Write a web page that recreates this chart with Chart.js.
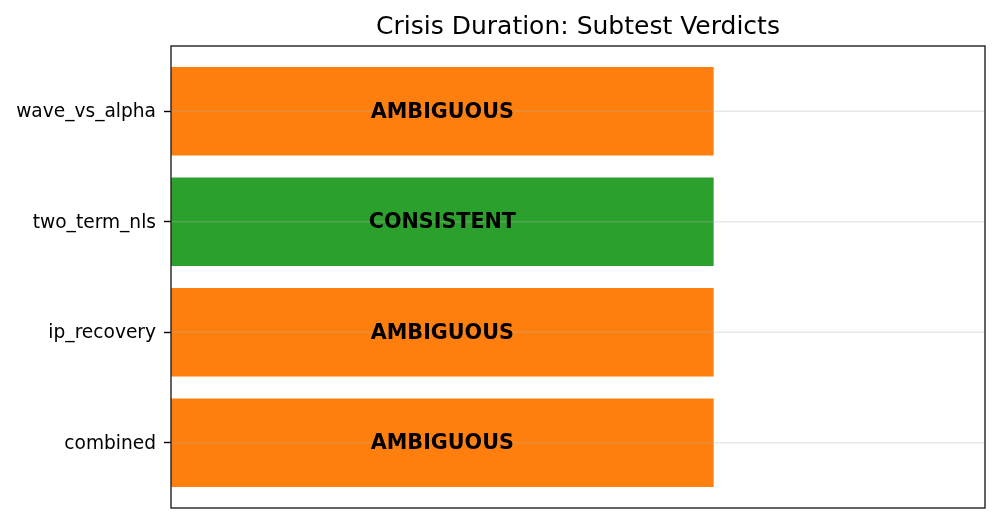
<!DOCTYPE html>
<html>
<head>
<meta charset="utf-8">
<script src="https://cdn.jsdelivr.net/npm/chart.js@4"></script>
<style>
html,body{margin:0;padding:0;background:#fff;}
#wrap{width:999px;height:523px;position:relative;}
</style>
</head>
<body>
<div id="wrap"><canvas id="c" width="999" height="523"></canvas></div>
<script>
const categories = ["wave_vs_alpha", "two_term_nls", "ip_recovery", "combined"];
const values = [1, 1, 1, 1];
const verdicts = ["AMBIGUOUS", "CONSISTENT", "AMBIGUOUS", "AMBIGUOUS"];
const titleText = "Crisis Duration: Subtest Verdicts";

const verdictColors = { AMBIGUOUS: "#ff7f0e", CONSISTENT: "#2ca02c", INCONSISTENT: "#d62728" };
const FONT = "'DejaVu Sans', sans-serif";

const framePlugin = {
  id: "frame",
  afterDatasetsDraw(chart) {
    const { ctx, chartArea: a } = chart;
    const ys = chart.scales.y;
    ctx.save();
    ctx.strokeStyle = "rgba(176,176,176,0.3)";
    ctx.lineWidth = 1.4;
    ys.ticks.forEach(t => {
      const p = ys.getPixelForValue(t.value);
      ctx.beginPath();
      ctx.moveTo(a.left, p);
      ctx.lineTo(a.right, p);
      ctx.stroke();
    });
    ctx.restore();
  },
  afterDraw(chart) {
    const { ctx, chartArea: a } = chart;
    ctx.save();
    const meta = chart.getDatasetMeta(0);
    ctx.font = "bold 20.7px " + FONT;
    ctx.fillStyle = "#000";
    ctx.textAlign = "center";
    ctx.textBaseline = "middle";
    meta.data.forEach((bar, i) => {
      ctx.fillText(verdicts[i], (bar.x + bar.base) / 2, bar.y + 1);
    });
    ctx.strokeStyle = "#222";
    ctx.lineWidth = 1.4;
    ctx.strokeRect(a.left, a.top, a.right - a.left, a.bottom - a.top);
    ctx.font = "25px " + FONT;
    ctx.fillStyle = "#000";
    ctx.textAlign = "center";
    ctx.textBaseline = "middle";
    ctx.fillText(titleText, (a.left + a.right) / 2, 27);
    ctx.restore();
  }
};

new Chart(document.getElementById("c"), {
  type: "bar",
  data: {
    datasets: [{
      data: values.map((v, i) => ({ x: v, y: i })),
      backgroundColor: verdicts.map(v => verdictColors[v]),
      borderWidth: 0,
      categoryPercentage: 1,
      barPercentage: 0.8
    }]
  },
  options: {
    indexAxis: "y",
    responsive: false,
    animation: false,
    devicePixelRatio: 1,
    layout: { padding: { top: 46, bottom: 15, right: 14, left: 0 } },
    plugins: { legend: { display: false }, tooltip: { enabled: false }, title: { display: false } },
    scales: {
      x: {
        type: "linear",
        min: 0,
        max: 1.5,
        display: false
      },
      y: {
        type: "linear",
        min: -0.59,
        max: 3.59,
        reverse: true,
        offset: false,
        border: { display: false },
        grid: {
          offset: false,
          drawOnChartArea: false,
          tickColor: "#000",
          tickLength: 7,
          tickWidth: 1.4
        },
        ticks: {
          stepSize: 1,
          padding: 8,
          labelOffset: 1,
          color: "#000",
          font: { family: FONT, size: 18.6 },
          callback: (v) => categories[v]
        },
        afterBuildTicks: (s) => { s.ticks = s.ticks.filter(t => Number.isInteger(t.value)); },
        afterFit: (s) => { s.width = 171; s.paddingTop = 0; s.paddingBottom = 0; }
      }
    }
  },
  plugins: [framePlugin]
});
</script>
</body>
</html>
